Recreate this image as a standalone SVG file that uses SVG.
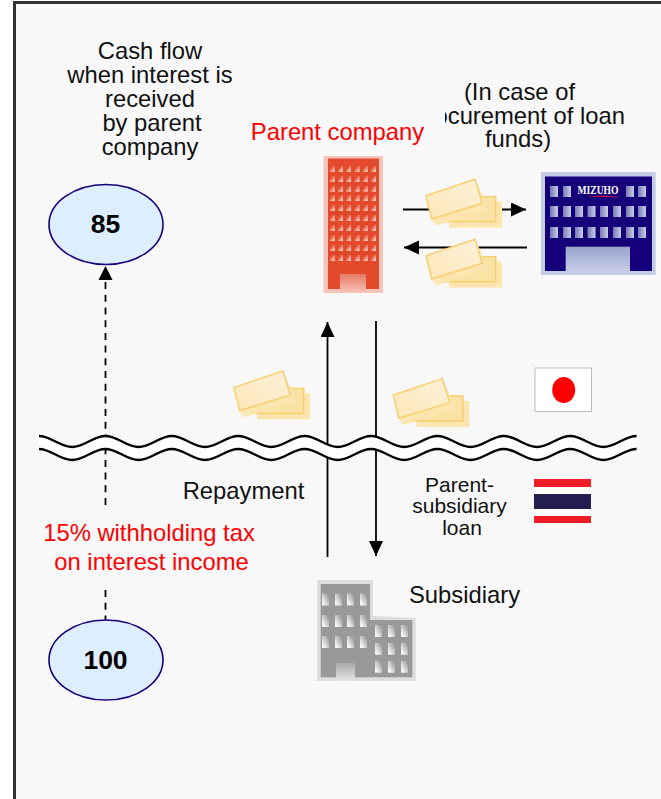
<svg xmlns="http://www.w3.org/2000/svg" width="661" height="799" viewBox="0 0 661 799">
<style>
text{font-family:"Liberation Sans",Arial,sans-serif;fill:#111}
.t{font-size:23.8px;text-anchor:middle}
.r{fill:#f00}
.n{font-size:26.5px;font-weight:bold;text-anchor:middle;fill:#000}
.s{font-size:21px;text-anchor:middle}
.el{fill:#ddeeff;stroke:#16007a;stroke-width:1.6}
.ln{fill:none;stroke:#000;stroke-width:1.8}
.wave{fill:none;stroke:#000;stroke-width:2.300}
</style>
<defs>
<linearGradient id="wr" x1="0" y1="0" x2="1" y2="1"><stop offset="0.25" stop-color="#e34a2c"/><stop offset="0.9" stop-color="#fbd8cf"/></linearGradient>
<linearGradient id="dr" x1="0" y1="0" x2="0" y2="1"><stop offset="0" stop-color="#e77a63"/><stop offset="1" stop-color="#f8c4ba"/></linearGradient>
<linearGradient id="wb" x1="0" y1="0" x2="1" y2="0"><stop offset="0" stop-color="#7478b4"/><stop offset="1" stop-color="#c9cfe8"/></linearGradient>
<linearGradient id="db" x1="0" y1="0" x2="0" y2="1"><stop offset="0" stop-color="#9aa3cc"/><stop offset="1" stop-color="#c5cce6"/></linearGradient>
<linearGradient id="wg" x1="1" y1="0" x2="0" y2="1"><stop offset="0.1" stop-color="#999"/><stop offset="0.8" stop-color="#f4f4f4"/></linearGradient>
<linearGradient id="dg" x1="0" y1="0" x2="0" y2="1"><stop offset="0" stop-color="#a8a8a8"/><stop offset="1" stop-color="#e6e6e6"/></linearGradient>
<linearGradient id="nt" x1="0" y1="1" x2="1" y2="0"><stop offset="0" stop-color="#fbe7b8"/><stop offset="1" stop-color="#fdf1d8"/></linearGradient>
<path id="wavep" d="M39,0c12,0 21,11 33.200,11s21,-11 33.200,-11s21,11 33.200,11s21,-11 33.200,-11s21,11 33.200,11s21,-11 33.200,-11s21,11 33.200,11s21,-11 33.200,-11s21,11 33.200,11s21,-11 33.200,-11s21,11 33.200,11s21,-11 33.200,-11s21,11 33.200,11s21,-11 33.200,-11s21,11 33.200,11s21,-11 33.200,-11s21,11 33.200,11s21,-11 33.200,-11"/>
<g id="money">
<rect x="23" y="6.700" width="53" height="26" fill="#fce5ae"/>
<rect x="18" y="1.700" width="51.700" height="25" fill="#fbe3a6" stroke="#f8cf6e" stroke-width="1.500"/>
<polygon points="5,23 52,-10 62,15 9.700,30.700" fill="#fce5ae" opacity="0.9"/>
<polygon points="0,0.700 49,-15.700 56.300,8.300 5.700,24" fill="url(#nt)" stroke="#f8cf6e" stroke-width="1.500"/>
</g>
<marker id="ah" markerUnits="userSpaceOnUse" markerWidth="16" markerHeight="16" refX="15" refY="7" orient="auto"><path d="M0,0L15,7L0,14Z" fill="#000"/></marker>
<clipPath id="clip"><rect x="445" y="100" width="200" height="35"/></clipPath>
<rect id="wred" width="5" height="6" fill="url(#wr)"/>
<rect id="wblue" width="8" height="11" fill="url(#wb)"/>
<rect id="wgray" width="7" height="12" fill="url(#wg)"/>
</defs>

<rect width="661" height="799" fill="#fff"/>
<rect x="14.500" y="2.500" width="660" height="810" fill="#f8f8f8" stroke="#333" stroke-width="3"/>

<g id="connectors">
<path class="ln" d="M105.500,590V620" stroke-dasharray="7 5.700"/>
<path class="ln" d="M105.500,505V280" stroke-dasharray="7 5.700"/>
<path d="M98.500,280L105.500,266L112.500,280Z" fill="#000"/>
<path class="ln" d="M327.500,557V322" marker-end="url(#ah)"/>
<path class="ln" d="M376,321V556" marker-end="url(#ah)"/>
<path class="ln" d="M403,209.500H526" marker-end="url(#ah)"/>
<path class="ln" d="M527,247.500H404" marker-end="url(#ah)"/>
</g>

<g id="boundary">
<use href="#wavep" y="442.500" fill="none" stroke="#fff" stroke-width="13"/>
<use href="#wavep" y="436" class="wave"/>
<use href="#wavep" y="449" class="wave"/>
</g>

<g id="title">
<text class="t" x="150" y="59">Cash flow</text>
<text class="t" x="150" y="83">when interest is</text>
<text class="t" x="150" y="107">received</text>
<text class="t" x="152" y="131">by parent</text>
<text class="t" x="150" y="155">company</text>
</g>

<g id="node-85"><ellipse class="el" cx="106" cy="224.500" rx="57" ry="40"/><text class="n" x="105.500" y="232.500">85</text></g>
<g id="node-100"><ellipse class="el" cx="106" cy="660" rx="57" ry="40"/><text class="n" x="105.500" y="669">100</text></g>

<g id="withholding">
<text class="t r" x="149" y="541">15% withholding tax</text>
<text class="t r" x="151.500" y="570">on interest income</text>
</g>

<g id="parent-company">
<text class="t r" x="337.500" y="140">Parent company</text>
<rect x="323.500" y="156" width="59.500" height="137" fill="#f8c4ba"/>
<rect x="328" y="158.500" width="51" height="130.500" fill="#e34a2c"/>
<rect x="340" y="274" width="26" height="19" fill="url(#dr)"/>
<g id="wins">
<use href="#wred" x="329.700" y="166"/><use href="#wred" x="338" y="166"/><use href="#wred" x="346" y="166"/><use href="#wred" x="354.500" y="166"/><use href="#wred" x="362.700" y="166"/><use href="#wred" x="371" y="166"/>
<use href="#wred" x="329.700" y="176"/><use href="#wred" x="338" y="176"/><use href="#wred" x="346" y="176"/><use href="#wred" x="354.500" y="176"/><use href="#wred" x="362.700" y="176"/><use href="#wred" x="371" y="176"/>
<use href="#wred" x="329.700" y="185.700"/><use href="#wred" x="338" y="185.700"/><use href="#wred" x="346" y="185.700"/><use href="#wred" x="354.500" y="185.700"/><use href="#wred" x="362.700" y="185.700"/><use href="#wred" x="371" y="185.700"/>
<use href="#wred" x="329.700" y="195"/><use href="#wred" x="338" y="195"/><use href="#wred" x="346" y="195"/><use href="#wred" x="354.500" y="195"/><use href="#wred" x="362.700" y="195"/><use href="#wred" x="371" y="195"/>
<use href="#wred" x="329.700" y="205"/><use href="#wred" x="338" y="205"/><use href="#wred" x="346" y="205"/><use href="#wred" x="354.500" y="205"/><use href="#wred" x="362.700" y="205"/><use href="#wred" x="371" y="205"/>
<use href="#wred" x="329.700" y="215"/><use href="#wred" x="338" y="215"/><use href="#wred" x="346" y="215"/><use href="#wred" x="354.500" y="215"/><use href="#wred" x="362.700" y="215"/><use href="#wred" x="371" y="215"/>
<use href="#wred" x="329.700" y="225"/><use href="#wred" x="338" y="225"/><use href="#wred" x="346" y="225"/><use href="#wred" x="354.500" y="225"/><use href="#wred" x="362.700" y="225"/><use href="#wred" x="371" y="225"/>
<use href="#wred" x="329.700" y="235"/><use href="#wred" x="338" y="235"/><use href="#wred" x="346" y="235"/><use href="#wred" x="354.500" y="235"/><use href="#wred" x="362.700" y="235"/><use href="#wred" x="371" y="235"/>
<use href="#wred" x="329.700" y="245"/><use href="#wred" x="338" y="245"/><use href="#wred" x="346" y="245"/><use href="#wred" x="354.500" y="245"/><use href="#wred" x="362.700" y="245"/><use href="#wred" x="371" y="245"/>
<use href="#wred" x="329.700" y="255"/><use href="#wred" x="338" y="255"/><use href="#wred" x="346" y="255"/><use href="#wred" x="354.500" y="255"/><use href="#wred" x="362.700" y="255"/><use href="#wred" x="371" y="255"/>
</g>
</g>

<g id="bank">
<rect x="541" y="172" width="114.700" height="103" fill="#c3cbe5"/>
<rect x="545" y="176.500" width="107" height="94.500" fill="#16007a"/>
<rect x="565.700" y="246.700" width="64.300" height="24.300" fill="url(#db)"/>
<use href="#wblue" x="550" y="186"/><use href="#wblue" x="563" y="186"/><use href="#wblue" x="626" y="186"/><use href="#wblue" x="638" y="186"/>
<use href="#wblue" x="550" y="206"/><use href="#wblue" x="563" y="206"/><use href="#wblue" x="575" y="206"/><use href="#wblue" x="587.500" y="206"/><use href="#wblue" x="600" y="206"/><use href="#wblue" x="613" y="206"/><use href="#wblue" x="626" y="206"/><use href="#wblue" x="638" y="206"/>
<use href="#wblue" x="550" y="227"/><use href="#wblue" x="563" y="227"/><use href="#wblue" x="575" y="227"/><use href="#wblue" x="587.500" y="227"/><use href="#wblue" x="600" y="227"/><use href="#wblue" x="613" y="227"/><use href="#wblue" x="626" y="227"/><use href="#wblue" x="638" y="227"/>
<text x="598" y="193.500" font-size="13" font-weight="bold" text-anchor="middle" textLength="41" lengthAdjust="spacingAndGlyphs" style="font-family:'Liberation Serif',serif;fill:#fff">MIZUHO</text>
<path d="M587,197Q605,193.500 622,198Q605,196 587,197Z" fill="#e0103a"/>
</g>

<g id="note-funds">
<text class="t" x="519.500" y="100">(In case of</text>
<text class="t" x="625" y="123.500" style="text-anchor:end" clip-path="url(#clip)">ocurement of loan</text>
<text class="t" x="518" y="147">funds)</text>
</g>

<g id="money-1"><use href="#money" x="426" y="195"/></g>
<g id="money-2"><use href="#money" x="426" y="255"/></g>
<g id="money-3"><use href="#money" x="234" y="386.700"/></g>
<g id="money-4"><use href="#money" x="393.300" y="394.300"/></g>

<g id="flag-japan">
<rect x="535" y="368" width="56.500" height="43.500" fill="#fff" stroke="#bbb" stroke-width="1"/>
<ellipse cx="563.700" cy="390" rx="11.500" ry="13" fill="#f00"/>
</g>
<g id="flag-thailand">
<rect x="534" y="479" width="57" height="8" fill="#ee1c25"/>
<rect x="534" y="487" width="57" height="7" fill="#fff"/>
<rect x="534" y="494" width="57" height="15" fill="#241d4f"/>
<rect x="534" y="509" width="57" height="7" fill="#fff"/>
<rect x="534" y="516" width="57" height="7" fill="#ee1c25"/>
</g>

<g id="labels">
<text class="t" x="243.500" y="499">Repayment</text>
<text class="s" x="459.500" y="491.500">Parent-</text>
<text class="s" x="459.500" y="513">subsidiary</text>
<text class="s" x="462" y="535">loan</text>
</g>

<g id="subsidiary">
<text class="t" x="464.500" y="602.500">Subsidiary</text>
<path d="M317.300,580H373V616L415.700,618V681H317.300Z" fill="#ddd"/>
<path d="M320.700,584H370V620H412.300V677.300H320.700Z" fill="#999"/>
<rect x="336" y="663" width="19" height="18" fill="url(#dg)"/>
<use href="#wgray" x="322" y="593.500"/><use href="#wgray" x="335" y="593.500"/><use href="#wgray" x="347" y="593.500"/><use href="#wgray" x="360" y="593.500"/>
<use href="#wgray" x="322" y="615"/><use href="#wgray" x="335" y="615"/><use href="#wgray" x="347" y="615"/><use href="#wgray" x="360" y="615"/>
<use href="#wgray" x="322" y="636"/><use href="#wgray" x="335" y="636"/><use href="#wgray" x="347" y="636"/><use href="#wgray" x="360" y="636"/>
<use href="#wgray" x="375" y="625"/><use href="#wgray" x="388" y="625"/><use href="#wgray" x="401" y="625"/>
<use href="#wgray" x="375" y="642.700"/><use href="#wgray" x="388" y="642.700"/><use href="#wgray" x="401" y="642.700"/>
<use href="#wgray" x="375" y="660.700"/><use href="#wgray" x="388" y="660.700"/><use href="#wgray" x="401" y="660.700"/>
</g>
</svg>
